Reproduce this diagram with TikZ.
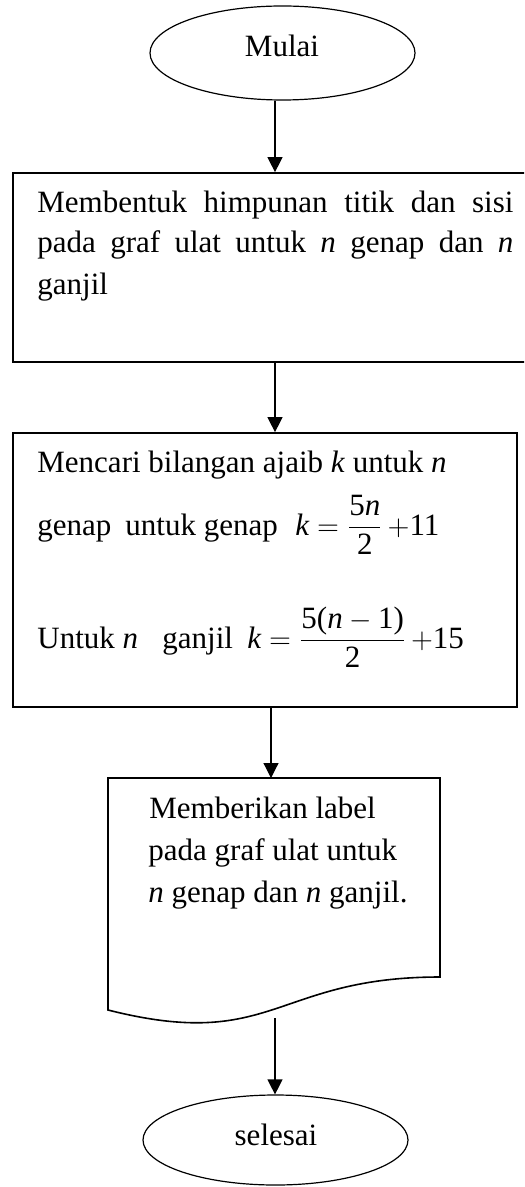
\documentclass[tikz,border=0pt]{standalone}
\usepackage{amsmath}
\usepackage{fontspec}
\setmainfont{Liberation Serif}
\usetikzlibrary{shapes.geometric,arrows.meta}
\tikzset{
  txt/.style={inner sep=0pt, font=\fontsize{15.5}{20.5}\selectfont},
  terminal/.style={draw, ellipse, line width=0.6pt, inner sep=0pt},
  procbox/.style={draw, rectangle, line width=0.85pt, inner sep=0pt},
  arr/.style={line width=0.6pt, -{Triangle[length=7.5pt,width=7.5pt]}},
  docline/.style={line width=0.8pt, line join=miter}
}
\begin{document}
\begin{tikzpicture}[x=0.5pt,y=-0.5pt]
\clip (0,0) rectangle (524,1187);
\fill[white] (0,0) rectangle (524,1187);

% Start
\node[terminal, minimum width=132.5pt, minimum height=47pt] (start) at (282.5,53) {};
\node[txt, anchor=base] (tstart) at (282,57) {Mulai};

% Box 1
\node[procbox, minimum width=266pt, minimum height=94.5pt] (b1) at (279,267.5) {};
\node[txt, anchor=base west] (t1a) at (37,213) {\makebox[238pt][s]{Membentuk himpunan titik dan sisi}};
\node[txt, anchor=base west] (t1b) at (37,253) {\makebox[238pt][s]{pada graf ulat untuk \textit{n} genap dan \textit{n}}};
\node[txt, anchor=base west] (t1c) at (37,295) {ganjil};

% Box 2
\node[procbox, minimum width=252pt, minimum height=137pt] (b2) at (265,570) {};
\node[txt, anchor=base west] (t2a) at (37,472) {Mencari bilangan ajaib \textit{k} untuk \textit{n}};
\node[txt, anchor=base west] (t2b) at (37,535) {genap};
\node[txt, anchor=base west] (t2c) at (125,535) {untuk genap};
\node[txt, anchor=base west] (t2d) at (295,535) {$\textit{k}=\dfrac{\text{5\textit{n}}}{\text{2}}\,{+}\text{11}$};
\node[txt, anchor=base west] (t2e) at (37,648) {Untuk \textit{n}};
\node[txt, anchor=base west] (t2f) at (162,648) {ganjil};
\node[txt, anchor=base west] (t2g) at (247,648) {$\textit{k}=\dfrac{\text{5(\textit{n}}-\text{1)}}{\text{2}}\,{+}\text{15}$};

% Document shape
\node[inner sep=0pt, minimum width=166pt, minimum height=124pt, anchor=north] (doc) at (274,778) {};
\draw[docline] (108,778) -- (440,778) -- (440,977)
  .. controls (274,977) and (274,1052) .. (108,1010) -- cycle;
\node[txt, anchor=base west] (t3a) at (149,818) {Memberikan label};
\node[txt, anchor=base west] (t3b) at (148,860) {pada graf ulat untuk};
\node[txt, anchor=base west] (t3c) at (148,902) {\textit{n} genap dan \textit{n} ganjil.};

% End
\node[terminal, minimum width=132.5pt, minimum height=45pt] (end) at (275.5,1140) {};
\node[txt, anchor=base] (tend) at (276,1145) {selesai};

% Connectors
\coordinate (x1) at (275,0);
\coordinate (x3) at (271,0);
\coordinate (d4) at (275,1018);
\draw[arr] (start.south -| x1) -- (b1.north -| x1);
\draw[arr] (b1.south -| x1) -- (b2.north -| x1);
\draw[arr] (b2.south -| x3) -- (doc.north -| x3);
\draw[arr] (d4) -- (end.north -| d4);
\end{tikzpicture}
\end{document}
